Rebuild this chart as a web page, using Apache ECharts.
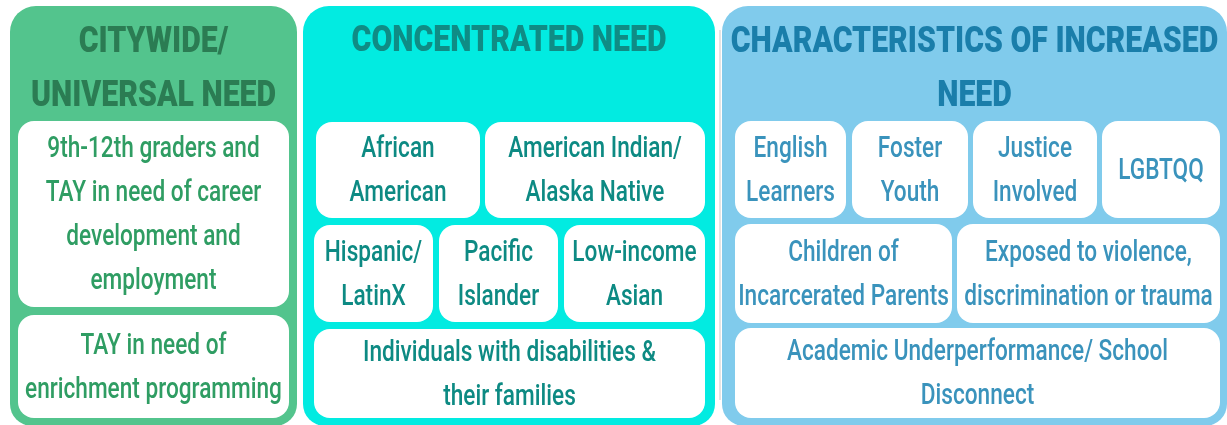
<!doctype html>
<html>
<head>
    <meta charset="utf-8">
    <title>Need tiers</title>
    <style>
        html, body { margin: 0; padding: 0; background: #fff; }
        #chart { width: 1227px; height: 425px; }
    </style>
</head>
<body>
    <div id="chart"></div>
    <script src="https://cdn.jsdelivr.net/npm/echarts@6/dist/echarts.min.js"></script>
    <script>
        // ---- content ----
        var panelTitles = ['CITYWIDE/\nUNIVERSAL NEED', 'CONCENTRATED NEED', 'CHARACTERISTICS OF INCREASED\nNEED'];
        var citywideRows = [
            ['9th-12th graders and\nTAY in need of career\ndevelopment and\nemployment'],
            ['TAY in need of\nenrichment programming']
        ];
        var concentratedRows = [
            ['African\nAmerican', 'American Indian/\nAlaska Native'],
            ['Hispanic/\nLatinX', 'Pacific\nIslander', 'Low-income\nAsian'],
            ['Individuals with disabilities &\ntheir families']
        ];
        var increasedRows = [
            ['English\nLearners', 'Foster\nYouth', 'Justice\nInvolved', 'LGBTQQ'],
            ['Children of\nIncarcerated Parents', 'Exposed to violence,\ndiscrimination or trauma'],
            ['Academic Underperformance/ School\nDisconnect']
        ];
        var panelRows = [citywideRows, concentratedRows, increasedRows];

        // ---- layout / styles ----
        var panelX = [[10, 297], [303, 715], [722, 1227]];
        var panelY = [6, 426];
        var titleY = [[43, 97], [42], [43, 97]];
        var rowY = [
            [[121, 307], [315, 418]],
            [[122, 218], [225, 322], [329, 418]],
            [[121, 218], [224, 323], [328, 418]]
        ];
        var colX = [
            [[[18, 289]], [[18, 289]]],
            [[[316, 480], [485, 705]], [[314, 433], [439, 558], [564, 705]], [[314, 705]]],
            [[[735, 846], [852, 968], [973, 1097], [1102, 1220]], [[735, 952], [957, 1220]], [[735, 1220]]]
        ];
        var panelColors = ['#53c48d', '#02ebe1', '#80cbec'];
        var titleColors = ['#2b7c53', '#0f8c85', '#1a7eaa'];
        var textColors = ['#2f9d63', '#0d8a83', '#3a93bc'];
        var fontFamily = 'Roboto, "Noto Sans", sans-serif';
        var titleSize = 36, titleSqueeze = 0.84;
        var bodySize = 29, bodySqueeze = 0.78;

        // flatten into items for the custom series
        var items = [];
        panelTitles.forEach(function (t, p) {
            items.push({ kind: 'panel', p: p });
        });
        panelRows.forEach(function (rows, p) {
            rows.forEach(function (row, r) {
                row.forEach(function (label, c) {
                    items.push({ kind: 'box', p: p, r: r, c: c, label: label });
                });
            });
        });

        var renderItem = function (params, api) {
            var it = items[params.dataIndex];
            var p = it.p;
            if (it.kind === 'panel') {
                var a = api.coord([panelX[p][0], panelY[0]]);
                var b = api.coord([panelX[p][1], panelY[1]]);
                var children = [{
                    type: 'rect',
                    shape: { x: a[0], y: a[1], width: b[0] - a[0], height: b[1] - a[1], r: [26, 26, 22, 22] },
                    style: { fill: panelColors[p] }
                }];
                var lines = panelTitles[p].split('\n');
                lines.forEach(function (ln, i) {
                    var pt = api.coord([(panelX[p][0] + panelX[p][1]) / 2, titleY[p][i]]);
                    children.push({
                        type: 'text',
                        x: pt[0], y: pt[1], scaleX: titleSqueeze,
                        style: {
                            text: ln, x: 0, y: 0, align: 'center', verticalAlign: 'middle',
                            fill: titleColors[p], fontFamily: fontFamily, fontWeight: 900, fontSize: titleSize
                        }
                    });
                });
                if (p === 2) {
                    var g1 = api.coord([720, 30]);
                    var g2 = api.coord([720, 400]);
                    children.unshift({
                        type: 'line',
                        shape: { x1: g1[0], y1: g1[1], x2: g2[0], y2: g2[1] },
                        style: { stroke: '#c9c9c9', lineWidth: 1 }
                    });
                }
                return { type: 'group', children: children };
            }
            var xs = colX[p][it.r][it.c];
            var ys = rowY[p][it.r];
            var c0 = api.coord([xs[0], ys[0]]);
            var c1 = api.coord([xs[1], ys[1]]);
            var mid = api.coord([(xs[0] + xs[1]) / 2, (ys[0] + ys[1]) / 2]);
            return {
                type: 'group',
                children: [{
                    type: 'rect',
                    shape: { x: c0[0], y: c0[1], width: c1[0] - c0[0], height: c1[1] - c0[1], r: 16 },
                    style: { fill: '#ffffff' }
                }, {
                    type: 'text',
                    x: mid[0], y: mid[1] + 2, scaleX: bodySqueeze,
                    style: {
                        text: it.label, x: 0, y: 0, align: 'center', verticalAlign: 'middle',
                        fill: textColors[p], fontFamily: fontFamily, fontWeight: 500,
                        fontSize: bodySize, lineHeight: 44
                    }
                }]
            };
        };

        var myChart = echarts.init(document.getElementById('chart'));
        var option = {
            animation: false,
            grid: { left: 0, right: 0, top: 0, bottom: 0 },
            xAxis: { type: 'value', min: 0, max: 1227, show: false },
            yAxis: { type: 'value', min: 0, max: 425, inverse: true, show: false },
            series: [{
                type: 'custom',
                renderItem: renderItem,
                clip: false,
                data: items.map(function (it, i) { return [i]; })
            }]
        };
        myChart.setOption(option);
    </script>
</body>
</html>
